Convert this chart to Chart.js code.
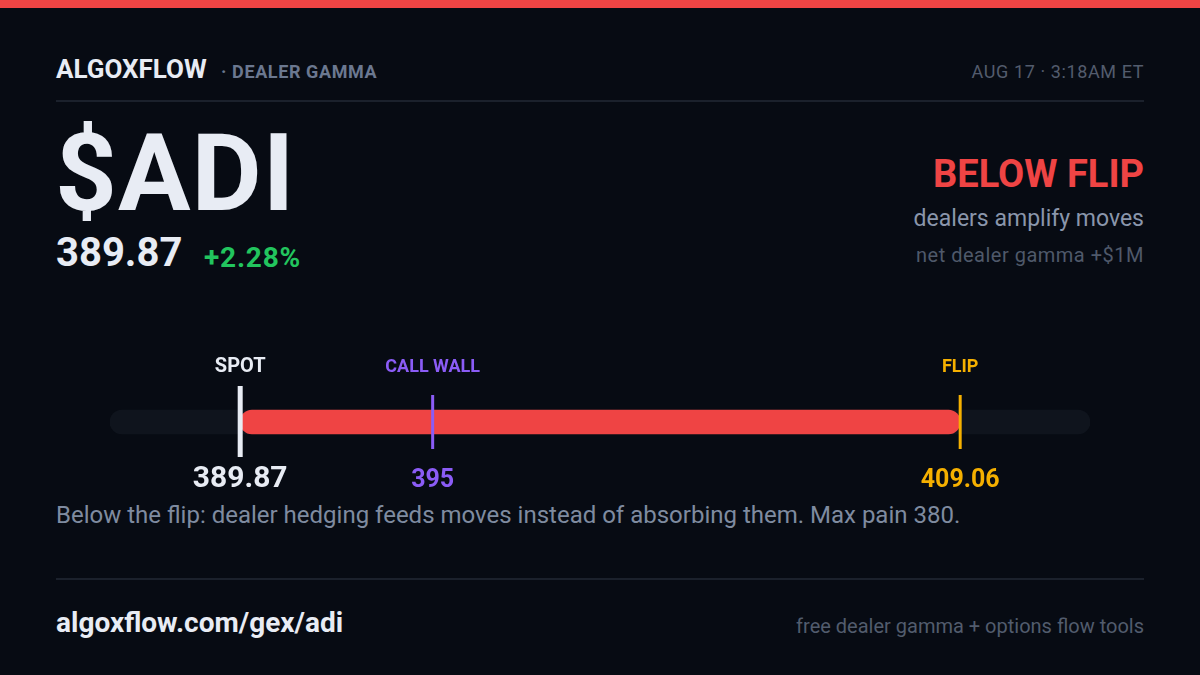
<!DOCTYPE html>
<html>
<head>
<meta charset="utf-8">
<script src="https://cdn.jsdelivr.net/npm/chart.js@4.4.1/dist/chart.umd.min.js"></script>
<style>
  html, body { margin: 0; padding: 0; }
  body { width: 1200px; height: 675px; background: #070b13; position: relative; overflow: hidden; font-family: Roboto, "Noto Sans", sans-serif; }
  .t { position: absolute; white-space: nowrap; line-height: 1; }
  .band { position: absolute; left: 0; top: 0; width: 1200px; height: 8px; background: #ef4444; }
  .rule { position: absolute; left: 56px; width: 1088px; height: 2px; background: #1b212c; }
  #gammaBar { position: absolute; left: 0; top: 330px; }
</style>
</head>
<body>
<div class="band"></div>

<div class="t" style="left:56px; top:56px; font-size:26px; font-weight:700; color:#e8ecf4;">ALGOXFLOW</div>
<div class="t" style="left:221px; top:63px; font-size:18px; font-weight:700; color:#6b7890; letter-spacing:0.6px;">· DEALER GAMMA</div>
<div class="t" style="right:56px; top:63px; font-size:18px; color:#535c6d; letter-spacing:0.6px;">AUG 17 · 3:18AM ET</div>
<div class="rule" style="top:100px;"></div>

<div class="t" style="left:55px; top:119px; font-size:108px; font-weight:700; color:#e8ecf4; letter-spacing:1px;">$ADI</div>
<div class="t" style="left:56px; top:233px; font-size:40px; font-weight:700; color:#e8ecf4;">389.87</div>
<div class="t" style="left:204px; top:243.5px; font-size:28px; font-weight:700; color:#22c55e; letter-spacing:0.8px;">+2.28%</div>

<div class="t" style="right:56px; top:155px; font-size:38px; font-weight:700; color:#ef4444;">BELOW FLIP</div>
<div class="t" style="right:56px; top:206.5px; font-size:23px; color:#8a96ab;">dealers amplify moves</div>
<div class="t" style="right:56px; top:245px; font-size:20px; color:#4f596a; letter-spacing:0.5px;">net dealer gamma +$1M</div>

<canvas id="gammaBar" width="1200" height="170"></canvas>

<div class="t" style="left:56px; top:503px; font-size:24px; color:#7f8ba0;">Below the flip: dealer hedging feeds moves instead of absorbing them. Max pain 380.</div>
<div class="rule" style="top:578px;"></div>
<div class="t" style="left:56px; top:608.5px; font-size:28px; font-weight:700; color:#e8ecf4;">algoxflow.com/gex/adi</div>
<div class="t" style="right:56px; top:616px; font-size:20px; color:#525c6d;">free dealer gamma + options flow tools</div>

<script>
// price levels on the gamma bar
const levelNames = ['SPOT', 'CALL WALL', 'FLIP'];
const levelValues = [389.87, 395, 409.06];
const levelLabels = ['389.87', '395', '409.06'];
const levelColors = ['#e8ecf4', '#8b5cf6', '#f5b000'];

// visible price range of the track and the red zone (spot -> flip)
const axisRange = [386.4, 412.52];
const gammaZone = [389.87, 409.06];

const markerPlugin = {
  id: 'levelMarkers',
  afterDatasetsDraw(chart) {
    const ctx = chart.ctx;
    const xScale = chart.scales.x;
    ctx.save();
    ctx.textAlign = 'center';
    levelValues.forEach((v, i) => {
      const px = xScale.getPixelForValue(v);
      const isSpot = i === 0;
      ctx.fillStyle = levelColors[i];
      if (isSpot) {
        ctx.fillRect(px - 2.5, 56, 5, 71);
      } else {
        ctx.fillRect(px - 1.5, 65, 3, 54);
      }
      ctx.font = isSpot ? '700 20px Roboto' : '700 18px Roboto';
      ctx.fillText(levelNames[i], px, 42);
      ctx.font = isSpot ? '700 30px Roboto' : '700 25px Roboto';
      ctx.fillText(levelLabels[i], px, 157);
    });
    ctx.restore();
  }
};

new Chart(document.getElementById('gammaBar'), {
  type: 'bar',
  data: {
    labels: ['ADI'],
    datasets: [
      {
        label: 'zone',
        data: [gammaZone],
        backgroundColor: '#ef4444',
        borderRadius: 12,
        borderSkipped: false,
        barThickness: 24,
        grouped: false,
        order: 1
      },
      {
        label: 'track',
        data: [axisRange],
        backgroundColor: '#0f141d',
        borderRadius: 12,
        borderSkipped: false,
        barThickness: 24,
        grouped: false,
        order: 2
      }
    ]
  },
  options: {
    indexAxis: 'y',
    responsive: false,
    animation: false,
    layout: { padding: { left: 110, right: 110, top: 60, bottom: 46 } },
    plugins: { legend: { display: false }, tooltip: { enabled: false } },
    scales: {
      x: { type: 'linear', min: axisRange[0], max: axisRange[1], display: false },
      y: { display: false }
    }
  },
  plugins: [markerPlugin]
});
</script>
</body>
</html>
